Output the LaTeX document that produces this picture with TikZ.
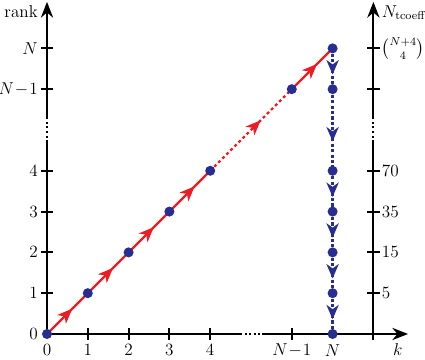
\documentclass[tikz,border=0pt]{standalone}
\usepackage{amsmath}
\usetikzlibrary{arrows.meta,decorations.markings}
\definecolor{dotblue}{RGB}{40,45,145}
\definecolor{linered}{RGB}{236,28,36}
\tikzset{
  axis/.style={line width=1.5pt,black},
  axisarrow/.style={axis,-{Stealth[length=11pt,width=8.5pt]}},
  gap/.style={line width=1.5pt,black,dash pattern=on 1.4pt off 1.8pt},
  tick/.style={line width=1.5pt,black},
  redline/.style={line width=1.6pt,linered},
  reddot/.style={redline,dash pattern=on 2pt off 2pt},
  blueline/.style={line width=1.6pt,dotblue,dash pattern=on 2.2pt off 1.6pt},
  midred/.style={postaction={decorate},decoration={markings,
     mark=at position 0.62 with {\arrow[linered,solid]{Stealth[length=10.5pt,width=8.5pt,inset=3pt]}}}},
  midblue/.style={postaction={decorate},decoration={markings,
     mark=at position 0.64 with {\arrow[dotblue,solid]{Stealth[length=10pt,width=8.5pt,inset=3pt]}}}},
  pt/.style={circle,fill=dotblue,inner sep=0pt,minimum size=7pt},
  lab/.style={inner sep=0pt,font=\fontsize{12}{14}\selectfont}
}
\begin{document}
\begin{tikzpicture}
\useasboundingbox (-1.152,-0.637) rectangle (9.265,8.186);
% axis coordinates
\coordinate (L0) at (0,-0.1);
\coordinate (L1) at (0,4.7);
\coordinate (L2) at (0,5.3);
\coordinate (L3) at (0,8.14);
\coordinate (R0) at (8,-0.1);
\coordinate (R1) at (8,4.7);
\coordinate (R2) at (8,5.3);
\coordinate (R3) at (8,8.14);
\coordinate (B0) at (-0.08,0);
\coordinate (B1) at (4.73,0);
\coordinate (B2) at (5.27,0);
\coordinate (B3) at (8.85,0);
% axes
\draw[axis] (L0) -- (L1);
\draw[gap] (L1) -- (L2);
\draw[axisarrow] (L2) -- (L3);
\draw[axis] (R0) -- (R1);
\draw[gap] (R1) -- (R2);
\draw[axisarrow] (R2) -- (R3);
\draw[axis] (B0) -- (B1);
\draw[gap] (B1) -- (B2);
\draw[axisarrow] (B2) -- (B3);
% ticks
\foreach \y in {1,2,3,4,6,7} {
  \draw[tick] (-0.15,\y) -- (0.15,\y);
  \draw[tick] (7.85,\y) -- (8.15,\y);
}
\foreach \x in {1,2,3,4,6,8} {
  \draw[tick] (\x,-0.15) -- (\x,0.15);
}
% axis labels
\node[lab,anchor=east] (rank) at (-0.22,7.9) {rank};
\node[lab,anchor=west] (ntc) at (8.2,7.88) {$N_{\mathrm{tcoeff}}$};
\node[lab] (klab) at (8.6,-0.37) {$k$};
% left labels
\node[lab,anchor=east] (y0) at (-0.22,0) {$0$};
\node[lab,anchor=east] (y1) at (-0.22,1) {$1$};
\node[lab,anchor=east] (y2) at (-0.22,2) {$2$};
\node[lab,anchor=east] (y3) at (-0.22,3) {$3$};
\node[lab,anchor=east] (y4) at (-0.22,4) {$4$};
\node[lab,anchor=east] (y6) at (-0.22,6) {$N\!-\!1$};
\node[lab,anchor=east] (y7) at (-0.22,7) {$N$};
% bottom labels
\node[lab] (x0) at (0,-0.4) {$0$};
\node[lab] (x1) at (1,-0.4) {$1$};
\node[lab] (x2) at (2,-0.4) {$2$};
\node[lab] (x3) at (3,-0.4) {$3$};
\node[lab] (x4) at (4,-0.4) {$4$};
\node[lab] (x6) at (6,-0.4) {$N\!-\!1$};
\node[lab] (x7) at (7,-0.4) {$N$};
% right labels
\node[lab,anchor=west] (r1) at (8.2,1) {$5$};
\node[lab,anchor=west] (r2) at (8.2,2) {$15$};
\node[lab,anchor=west] (r3) at (8.2,3) {$35$};
\node[lab,anchor=west] (r4) at (8.2,4) {$70$};
\node[lab,anchor=west] (r7) at (8.2,7) {$\tbinom{N+4}{4}$};
% points
\coordinate (p0) at (0,0);
\coordinate (p1) at (1,1);
\coordinate (p2) at (2,2);
\coordinate (p3) at (3,3);
\coordinate (p4) at (4,4);
\coordinate (p6) at (6,6);
\coordinate (p7) at (7,7);
\coordinate (q6) at (7,6);
\coordinate (q4) at (7,4);
\coordinate (q3) at (7,3);
\coordinate (q2) at (7,2);
\coordinate (q1) at (7,1);
\coordinate (q0) at (7,0);
% red path
\draw[redline,midred] (p0) -- (p1);
\draw[redline,midred] (p1) -- (p2);
\draw[redline,midred] (p2) -- (p3);
\draw[redline,midred] (p3) -- (p4);
\draw[reddot,midred] (p4) -- (p6);
\draw[redline,midred] (p6) -- (p7);
% blue path
\draw[blueline,midblue] (p7) -- (q6);
\draw[blueline,midblue] (q6) -- (q4);
\draw[blueline,midblue] (q4) -- (q3);
\draw[blueline,midblue] (q3) -- (q2);
\draw[blueline,midblue] (q2) -- (q1);
\draw[blueline,midblue] (q1) -- (q0);
% dots
\foreach \n in {p0,p1,p2,p3,p4,p6,p7,q6,q4,q3,q2,q1,q0}
  \node[pt] (d\n) at (\n) {};
\end{tikzpicture}
\end{document}
